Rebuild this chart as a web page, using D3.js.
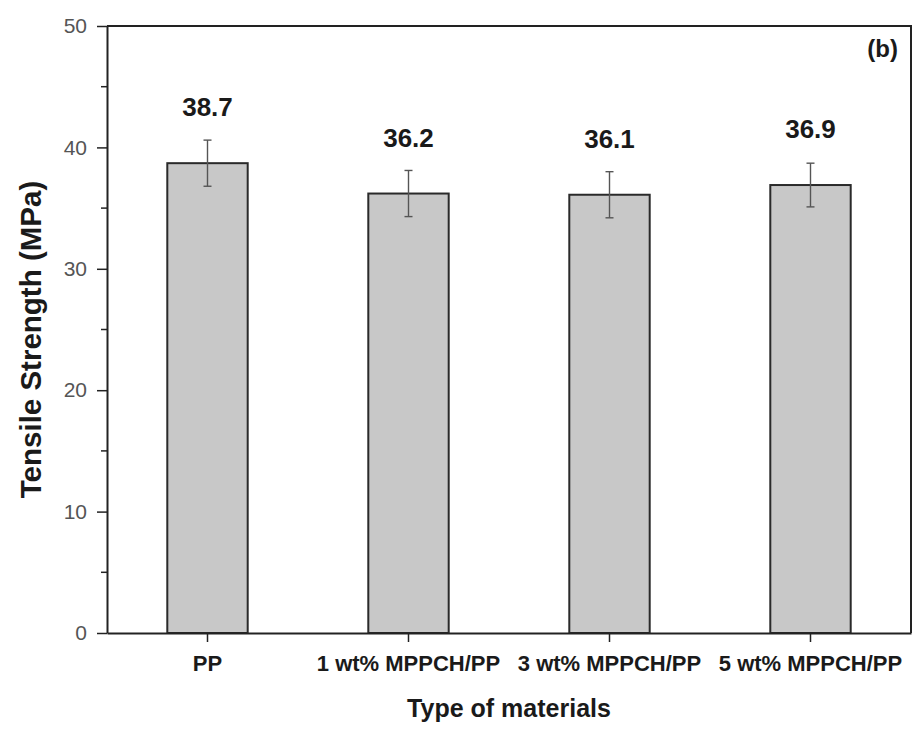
<!DOCTYPE html>
<html>
<head>
<meta charset="utf-8">
<script src="https://cdn.jsdelivr.net/npm/d3@7"></script>
<style>
  body { margin: 0; background: #fff; }
  svg { font-family: "Liberation Sans", Arial, sans-serif; }
</style>
</head>
<body>
<div id="chart"></div>
<script>
// chart data
var materials = ["PP", "1 wt% MPPCH/PP", "3 wt% MPPCH/PP", "5 wt% MPPCH/PP"];
var strength = [38.7, 36.2, 36.1, 36.9];
var strengthErr = [1.9, 1.9, 1.9, 1.8];
var yTicks = [0, 10, 20, 30, 40, 50];
var yMinorTicks = [5, 15, 25, 35, 45];

var svgWidth = 920;
var svgHeight = 730;

var margin = { top: 26, right: 9, bottom: 97, left: 107 };
var width = svgWidth - margin.left - margin.right;
var height = svgHeight - margin.top - margin.bottom;

var data = materials.map((m, i) => ({ name: m, value: strength[i], err: strengthErr[i] }));

var svg = d3.select("#chart")
    .append("svg")
    .attr("width", svgWidth)
    .attr("height", svgHeight);

var chartGroup = svg.append("g")
    .attr("transform", `translate(${margin.left},${margin.top})`);

var xBandScale = d3.scaleBand()
    .domain(materials)
    .range([0, width])
    .paddingInner(0.6)
    .paddingOuter(0.3);

var yLinearScale = d3.scaleLinear()
    .domain([0, 50])
    .range([height, 0]);

// bars
chartGroup.selectAll("rect.bar")
    .data(data)
    .enter()
    .append("rect")
    .attr("class", "bar")
    .attr("x", d => xBandScale(d.name))
    .attr("y", d => yLinearScale(d.value))
    .attr("width", xBandScale.bandwidth())
    .attr("height", d => height - yLinearScale(d.value))
    .attr("fill", "#c8c8c8")
    .attr("stroke", "#2a2a2a")
    .attr("stroke-width", 2);

// error bars
var errGroup = chartGroup.selectAll("g.err")
    .data(data)
    .enter()
    .append("g")
    .attr("class", "err")
    .attr("stroke", "#555")
    .attr("stroke-width", 1.4);

errGroup.append("line")
    .attr("x1", d => xBandScale(d.name) + xBandScale.bandwidth() / 2)
    .attr("x2", d => xBandScale(d.name) + xBandScale.bandwidth() / 2)
    .attr("y1", d => yLinearScale(d.value + d.err))
    .attr("y2", d => yLinearScale(d.value - d.err));

[1, -1].forEach(s => {
    errGroup.append("line")
        .attr("x1", d => xBandScale(d.name) + xBandScale.bandwidth() / 2 - 4)
        .attr("x2", d => xBandScale(d.name) + xBandScale.bandwidth() / 2 + 4)
        .attr("y1", d => yLinearScale(d.value + s * d.err))
        .attr("y2", d => yLinearScale(d.value + s * d.err));
});

// value labels
chartGroup.selectAll("text.val")
    .data(data)
    .enter()
    .append("text")
    .attr("class", "val")
    .attr("x", d => xBandScale(d.name) + xBandScale.bandwidth() / 2)
    .attr("y", d => yLinearScale(d.value) - 47)
    .attr("text-anchor", "middle")
    .attr("font-size", "26px")
    .attr("font-weight", "bold")
    .attr("fill", "#1a1a1a")
    .text(d => d.value.toFixed(1));

// frame (top and right)
chartGroup.append("path")
    .attr("d", `M0,0H${width}V${height}`)
    .attr("fill", "none")
    .attr("stroke", "#222")
    .attr("stroke-width", 2);

// axes
var leftAxis = d3.axisLeft(yLinearScale)
    .tickValues(yTicks)
    .tickSize(10)
    .tickPadding(10)
    .tickSizeOuter(0);

var yAxisG = chartGroup.append("g").call(leftAxis);
yAxisG.select(".domain").attr("stroke", "#222").attr("stroke-width", 2);
yAxisG.selectAll(".tick line").attr("stroke", "#222").attr("stroke-width", 1.5);
yAxisG.selectAll(".tick text")
    .attr("font-size", "21px")
    .attr("font-family", "\"Liberation Sans\", Arial, sans-serif")
    .attr("fill", "#555");

chartGroup.append("g")
    .selectAll("line")
    .data(yMinorTicks)
    .enter()
    .append("line")
    .attr("x1", -6)
    .attr("x2", 0)
    .attr("y1", d => yLinearScale(d))
    .attr("y2", d => yLinearScale(d))
    .attr("stroke", "#222")
    .attr("stroke-width", 1.5);

var bottomAxis = d3.axisBottom(xBandScale)
    .tickSize(9)
    .tickPadding(13)
    .tickSizeOuter(0);

var xAxisG = chartGroup.append("g")
    .attr("transform", `translate(0,${height})`)
    .call(bottomAxis);
xAxisG.select(".domain").attr("stroke", "#222").attr("stroke-width", 2);
xAxisG.selectAll(".tick line").attr("stroke", "#222").attr("stroke-width", 1.5);
xAxisG.selectAll(".tick text")
    .attr("font-size", "22px")
    .attr("font-weight", "bold")
    .attr("font-family", "\"Liberation Sans\", Arial, sans-serif")
    .attr("fill", "#1a1a1a");

// axis titles
chartGroup.append("text")
    .attr("transform", "rotate(-90)")
    .attr("x", 0 - (height / 2) - 10)
    .attr("y", 0 - margin.left + 41)
    .attr("text-anchor", "middle")
    .attr("font-size", "29.5px")
    .attr("font-weight", "bold")
    .attr("fill", "#1a1a1a")
    .text("Tensile Strength (MPa)");

chartGroup.append("text")
    .attr("x", width / 2)
    .attr("y", height + 84)
    .attr("text-anchor", "middle")
    .attr("font-size", "25px")
    .attr("font-weight", "bold")
    .attr("fill", "#1a1a1a")
    .text("Type of materials");

chartGroup.append("text")
    .attr("x", width - 13)
    .attr("y", 31)
    .attr("text-anchor", "end")
    .attr("font-size", "24px")
    .attr("font-weight", "bold")
    .attr("fill", "#1a1a1a")
    .text("(b)");
</script>
</body>
</html>
